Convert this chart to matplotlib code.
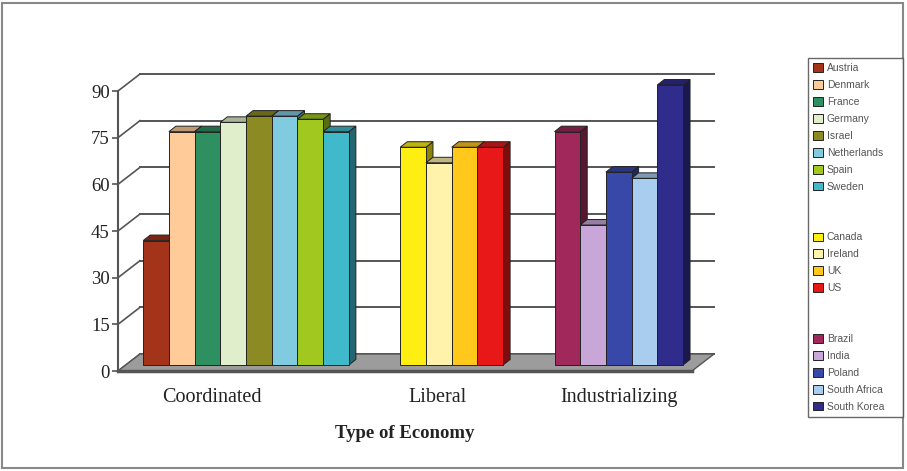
import matplotlib
matplotlib.use("Agg")
import matplotlib.pyplot as plt
from matplotlib.patches import Polygon, Rectangle, Patch
from matplotlib.colors import to_rgb

# data
groups = ["Coordinated", "Liberal", "Industrializing"]
coordinated = ["Austria", "Denmark", "France", "Germany", "Israel", "Netherlands", "Spain", "Sweden"]
coordinated_vals = [40, 75, 75, 78, 80, 80, 79, 75]
liberal = ["Canada", "Ireland", "UK", "US"]
liberal_vals = [70, 65, 70, 70]
industrializing = ["Brazil", "India", "Poland", "South Africa", "South Korea"]
industrializing_vals = [75, 45, 62, 60, 90]
yticks = [0, 15, 30, 45, 60, 75, 90]

colors = {
    "Austria": "#A33319", "Denmark": "#FFCC99", "France": "#2E9060", "Germany": "#E0EECB",
    "Israel": "#8C8A22", "Netherlands": "#80CBE0", "Spain": "#A0C81E", "Sweden": "#40BACB",
    "Canada": "#FFEE11", "Ireland": "#FFF2AA", "UK": "#FFC81A", "US": "#E81818",
    "Brazil": "#A0285A", "India": "#C8A6D8", "Poland": "#3848A8", "South Africa": "#A8CDEF",
    "South Korea": "#302C8C",
}

W, H = 907, 471
fig = plt.figure(figsize=(W / 100, H / 100), dpi=100)
ax = fig.add_axes([118 / W, (H - 371) / H, (692 - 118) / W, (371 - 91) / H])
xmin, xmax = -0.67, 21.66
ax.set_xlim(xmin, xmax)
ax.set_ylim(0, 90)

# pixel size of one data unit, used for the fake 3d depth
p0 = ax.transData.transform((0, 0))
p1 = ax.transData.transform((1, 1))
ux, uy = p1[0] - p0[0], p1[1] - p0[1]
wall_dx, wall_dy = 22 / ux, 17 / uy       # back wall
front_dx, front_dy = 8 / ux, 6 / uy       # front face of the bars
back_dx, back_dy = 15 / ux, 11.5 / uy     # back face of the bars

grid_c = "#555555"
for v in yticks:
    ax.plot([xmin + wall_dx, xmax + wall_dx], [v + wall_dy, v + wall_dy],
            color=grid_c, lw=1.4, clip_on=False, zorder=1)
    ax.plot([xmin, xmin + wall_dx], [v, v + wall_dy], color=grid_c, lw=1.2,
            clip_on=False, zorder=1)

# floor
floor = Polygon([(xmin, 0), (xmax, 0), (xmax + wall_dx, wall_dy), (xmin + wall_dx, wall_dy)],
                closed=True, facecolor="#9c9c9c", edgecolor="#555555", lw=1.0,
                clip_on=False, zorder=2)
ax.add_patch(floor)
ax.plot([xmin, xmax], [0, 0], color="#555555", lw=2.5, clip_on=False, zorder=2)


def shade(c, f):
    r, g, b = to_rgb(c)
    return (r * f, g * f, b * f)


all_names = [coordinated, liberal, industrializing]
all_vals = [coordinated_vals, liberal_vals, industrializing_vals]
handles = {}
slot = 0
z = 10
for names, vals in zip(all_names, all_vals):
    for name, v in zip(names, vals):
        c = colors[name]
        side = Polygon([(slot + 1 + front_dx, front_dy), (slot + 1 + front_dx, front_dy + v),
                        (slot + 1 + back_dx, back_dy + v), (slot + 1 + back_dx, back_dy)],
                       closed=True, facecolor=shade(c, 0.55), edgecolor="#222222", lw=0.7,
                       clip_on=False, zorder=z)
        top = Polygon([(slot + front_dx, front_dy + v), (slot + 1 + front_dx, front_dy + v),
                       (slot + 1 + back_dx, back_dy + v), (slot + back_dx, back_dy + v)],
                      closed=True, facecolor=shade(c, 0.75), edgecolor="#222222", lw=0.7,
                      clip_on=False, zorder=z + 1)
        ax.add_patch(side)
        ax.add_patch(top)
        bars = ax.bar(slot + front_dx, v, width=1, bottom=front_dy, align="edge", color=c,
                      edgecolor="#222222", linewidth=0.7, zorder=z + 2, clip_on=False)
        handles[name] = bars
        slot += 1
        z += 3
    slot += 2

# axes styling
for s in ["top", "right", "bottom"]:
    ax.spines[s].set_visible(False)
ax.spines["left"].set_color("#555555")
ax.spines["left"].set_linewidth(1.5)
ax.spines["left"].set_zorder(3)
ax.set_yticks(yticks)
ax.set_yticklabels([str(t) for t in yticks], fontfamily="Liberation Serif", fontsize=13.5,
                   color="#222222")
ax.tick_params(axis="y", length=4, width=1.2, color="#555555", pad=2)
ax.set_xticks([2.98, 11.78, 18.82])
ax.set_xticklabels(groups, fontfamily="Liberation Serif", fontsize=14.5, color="#222222")
ax.tick_params(axis="x", length=0, pad=12)
ax.set_xlabel("Type of Economy", fontfamily="Liberation Serif", fontsize=13.5,
              fontweight="bold", color="#222222", labelpad=13)
ax.patch.set_visible(False)

# legend with blank rows between the groups
blank = Patch(facecolor="none", edgecolor="none")
leg_handles, leg_labels = [], []
for gi, names in enumerate(all_names):
    for name in names:
        leg_handles.append(handles[name])
        leg_labels.append(name)
    if gi < len(all_names) - 1:
        leg_handles += [blank, blank]
        leg_labels += ["", ""]
leg = fig.legend(leg_handles, leg_labels, loc="upper left",
                 bbox_to_anchor=(808 / W, (H - 418) / H, 95 / W, 360 / H), mode="expand",
                 frameon=True, fancybox=False, edgecolor="#444444",
                 prop={"family": "Liberation Sans", "size": 7.5},
                 handlelength=0.9, handleheight=0.9, handletextpad=0.4,
                 labelspacing=0.665, borderpad=0.5, borderaxespad=0)
leg.get_frame().set_linewidth(1.0)
for t in leg.get_texts():
    t.set_color("#555555")

# outer frame
fig.patches.append(Rectangle((2 / W, 3 / H), (903 - 2) / W, (468 - 3) / H,
                             transform=fig.transFigure, fill=False,
                             edgecolor="#888888", lw=1.5))

fig.savefig("out.png", dpi=100)
